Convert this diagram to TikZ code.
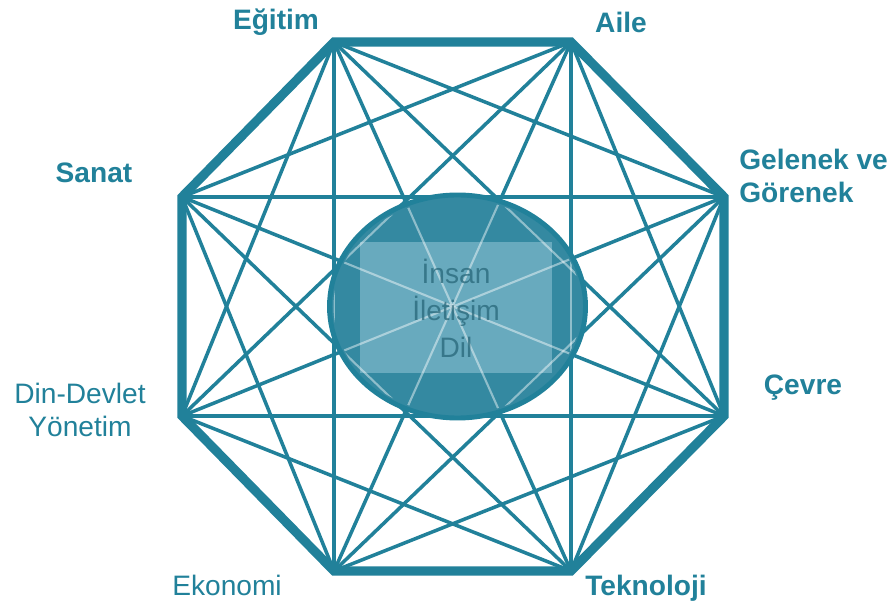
\documentclass[tikz,border=0pt]{standalone}
\usepackage{fontspec}
\setmainfont{Liberation Sans}
\usetikzlibrary{positioning,calc,shapes.geometric}
\usepackage{xcolor}
\definecolor{petroltide}{HTML}{21819A}
\definecolor{petrolcore}{HTML}{3489A1}
\definecolor{petrolpane}{HTML}{68AABE}
\tikzset{
  rimline/.style={draw=petroltide,line width=5.2pt,line join=miter},
  chordline/.style={draw=petroltide,line width=2pt},
  glossline/.style={draw=white,line width=1.2pt,opacity=0.45},
  themelabel/.style={text=petroltide,font=\rmfamily\bfseries\fontsize{16}{19}\selectfont,align=center,inner sep=0pt},
  plainlabel/.style={themelabel,font=\rmfamily\fontsize{16}{19}\selectfont},
}

\begin{document}
\begin{tikzpicture}
  \useasboundingbox[fill=white] (0,0) rectangle (17.88,12.16);
  \coordinate (v1) at (6.68,11.32);
  \coordinate (v2) at (11.42,11.32);
  \coordinate (v3) at (14.48,8.22);
  \coordinate (v4) at (14.48,3.84);
  \coordinate (v5) at (11.42,0.74);
  \coordinate (v6) at (6.68,0.74);
  \coordinate (v7) at (3.64,3.84);
  \coordinate (v8) at (3.64,8.22);
  \foreach \i [evaluate=\i as \n using int(\i+1)] in {1,...,7} {
    \foreach \j in {\n,...,8} {
      \draw[chordline] (v\i) -- (v\j);
    }
  }
  \draw[rimline] (v1) -- (v2) -- (v3) -- (v4) -- (v5) -- (v6) -- (v7) -- (v8) -- cycle;
  \node[ellipse,draw=petroltide,line width=2.8pt,fill=petrolcore,
        minimum width=5.12cm,minimum height=4.46cm,inner sep=0pt] (core) at (9.15,6.03) {};
  \node[fill=petrolpane,minimum width=3.84cm,minimum height=2.62cm,inner sep=0pt] (pane) at (9.12,6.01) {};
  \begin{scope}
    \clip (core.center) ellipse [x radius=2.48cm,y radius=2.15cm];
    \foreach \i [evaluate=\i as \n using int(\i+1)] in {1,...,7} {
      \foreach \j in {\n,...,8} {
        \draw[glossline] (v\i) -- (v\j);
      }
    }
  \end{scope}
  \node[text=petrolcore!75!black,opacity=0.75,align=center,
        font=\rmfamily\fontsize{16}{21}\selectfont] (hub) at (9.12,6.0) {İnsan\\İletişim\\Dil};
  \node[themelabel] (egitim) at (5.52,11.72) {Eğitim};
  \node[themelabel] (aile) at (12.42,11.72) {Aile};
  \node[themelabel,anchor=west,align=left] (gelenek) at (14.78,8.64) {Gelenek ve\\Görenek};
  \node[themelabel] (cevre) at (16.06,4.40) {Çevre};
  \node[themelabel] (teknoloji) at (12.92,0.40) {Teknoloji};
  \node[plainlabel] (ekonomi) at (4.54,0.46) {Ekonomi};
  \node[plainlabel] (din) at (1.60,3.96) {Din-Devlet\\Yönetim};
  \node[themelabel] (sanat) at (1.88,8.70) {Sanat};
\end{tikzpicture}
\end{document}
